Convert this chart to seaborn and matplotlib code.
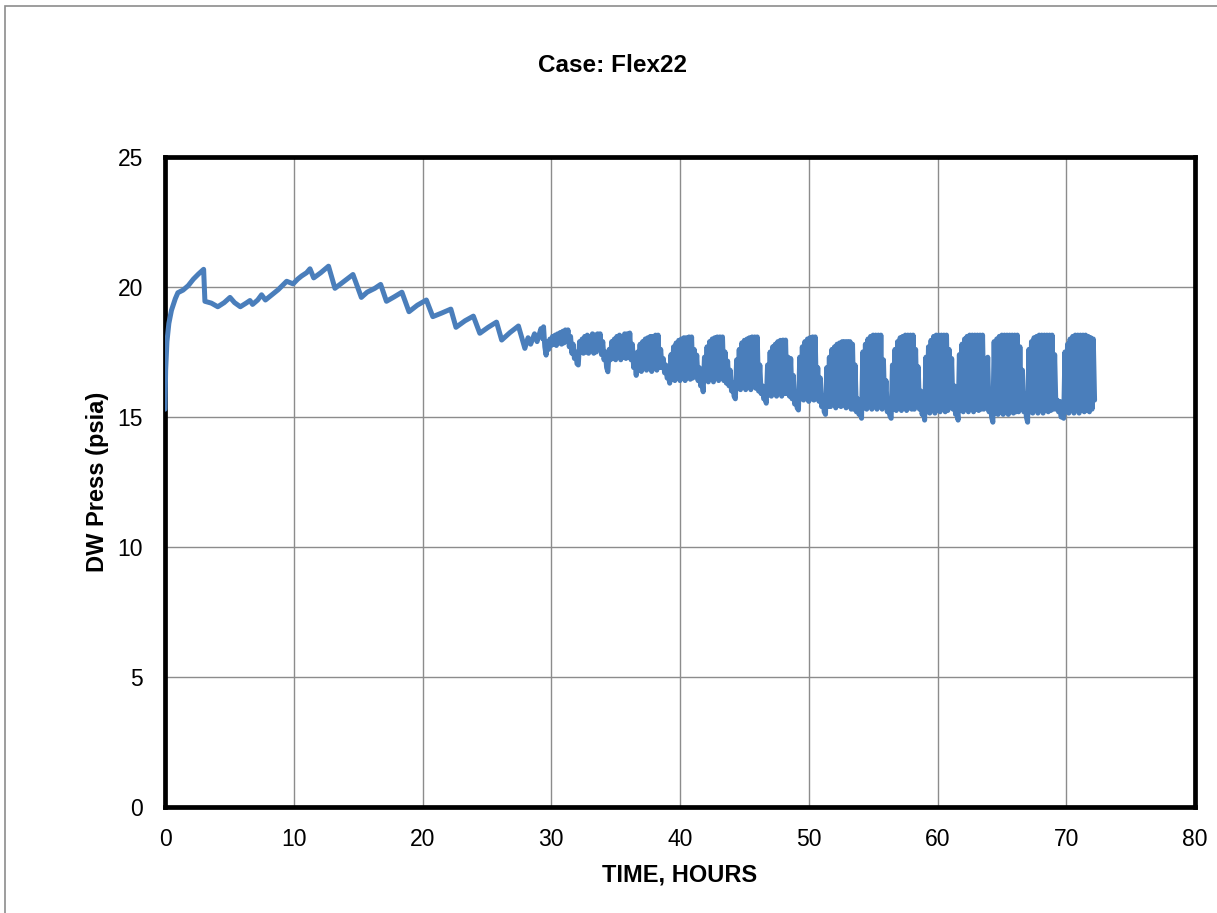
import matplotlib
matplotlib.use("Agg")
import matplotlib.pyplot as plt
from matplotlib.patches import Rectangle
import pandas as pd
import seaborn as sns

# ---- data ----
t_early = [0.0, 0.05, 0.15, 0.3, 0.5, 0.8, 1.0, 1.4, 1.8, 2.2, 2.6, 3.0, 3.1, 3.6, 4.1,
           4.6, 5.05, 5.4, 5.85, 6.3, 6.6, 6.8, 7.2, 7.5, 7.8, 8.3, 8.8, 9.45, 9.95, 10.3,
           10.6, 11.0, 11.26, 11.55, 12.1, 12.7, 13.2, 13.6, 14.0, 14.6, 15.25, 15.7, 16.3,
           16.75, 17.2, 17.8, 18.4, 18.95, 19.6, 20.3, 20.8, 21.5, 22.2, 22.6, 23.3, 23.95,
           24.45, 25.1, 25.75, 26.15, 26.8, 27.45, 27.95, 28.2, 28.4, 28.7, 28.9, 29.2,
           29.35, 29.4]
p_early = [15.3, 16.8, 17.9, 18.6, 19.1, 19.55, 19.78, 19.88, 20.05, 20.3, 20.5, 20.68,
           19.45, 19.38, 19.24, 19.4, 19.6, 19.4, 19.24, 19.38, 19.48, 19.33, 19.5, 19.7,
           19.5, 19.7, 19.9, 20.22, 20.12, 20.3, 20.42, 20.55, 20.7, 20.35, 20.55, 20.8,
           19.95, 20.1, 20.25, 20.48, 19.6, 19.8, 19.95, 20.1, 19.45, 19.62, 19.8, 19.05,
           19.3, 19.5, 18.86, 19.0, 19.15, 18.45, 18.7, 18.88, 18.22, 18.45, 18.65, 17.96,
           18.25, 18.5, 17.64, 18.05, 17.8, 18.2, 17.9, 18.4, 18.0, 18.47]

t_cycle = [
    29.5, 29.6, 29.7, 29.8, 29.9, 30.0, 30.1, 30.2, 30.3, 30.4, 30.5, 30.6, 30.7, 30.8,
    30.9, 31.0, 31.1, 31.2, 31.3, 31.4, 31.5, 31.6, 31.7, 31.8, 31.9, 32.0, 32.1,
    32.2, 32.3, 32.4, 32.5, 32.6, 32.7, 32.8, 32.9, 33.0, 33.1, 33.2, 33.3, 33.4, 33.5,
    33.6, 33.7, 33.8,
    33.9, 34.0, 34.1, 34.2, 34.3, 34.4,
    34.5, 34.6, 34.7, 34.8, 34.9, 35.0, 35.1, 35.2, 35.3, 35.4, 35.5, 35.6, 35.7, 35.8,
    35.9, 36.0, 36.1,
    36.2, 36.3, 36.4, 36.5, 36.6,
    36.7, 36.8, 36.9, 37.0, 37.1, 37.2, 37.3, 37.4, 37.5, 37.6, 37.7, 37.8, 37.9, 38.0,
    38.1, 38.2, 38.3,
    38.4, 38.5, 38.6, 38.7, 38.8, 38.9, 39.0, 39.1, 39.2,
    39.3, 39.4, 39.5, 39.6, 39.7, 39.8, 39.9, 40.0, 40.1, 40.2, 40.3, 40.4, 40.5, 40.6,
    40.7, 40.8, 40.9,
    41.0, 41.1, 41.2, 41.3, 41.4, 41.5, 41.6, 41.7, 41.8,
    41.9, 42.0, 42.1, 42.2, 42.3, 42.4, 42.5, 42.6, 42.7, 42.8, 42.9, 43.0, 43.1, 43.2,
    43.3,
    43.4, 43.5, 43.6, 43.7, 43.8, 43.9, 44.0, 44.1, 44.2, 44.3,
    44.4, 44.5, 44.6, 44.7, 44.8, 44.9, 45.0, 45.1, 45.2, 45.3, 45.4, 45.5, 45.6, 45.7,
    45.8, 45.9, 46.0,
    46.1, 46.2, 46.3, 46.4, 46.5, 46.6, 46.7,
    46.8, 46.9, 47.0, 47.1, 47.2, 47.3, 47.4, 47.5, 47.6, 47.7, 47.8, 47.9, 48.0, 48.1,
    48.2,
    48.3, 48.4, 48.5, 48.6, 48.7, 48.8, 48.9, 49.0, 49.1, 49.2,
    49.3, 49.4, 49.5, 49.6, 49.7, 49.8, 49.9, 50.0, 50.1, 50.2, 50.3, 50.4, 50.5,
    50.6, 50.7, 50.8, 50.9, 51.0, 51.1, 51.2, 51.3,
    51.4, 51.5, 51.6, 51.7, 51.8, 51.9, 52.0, 52.1, 52.2, 52.3, 52.4, 52.5, 52.6, 52.7,
    52.8, 52.9, 53.0, 53.1, 53.2, 53.3, 53.4,
    53.5, 53.6, 53.7, 53.8, 53.9, 54.0, 54.1,
    54.2, 54.3, 54.4, 54.5, 54.6, 54.7, 54.8, 54.9, 55.0, 55.1, 55.2, 55.3, 55.4, 55.5,
    55.6, 55.7,
    55.8, 55.9, 56.0, 56.1, 56.2, 56.3, 56.4,
    56.5, 56.6, 56.7, 56.8, 56.9, 57.0, 57.1, 57.2, 57.3, 57.4, 57.5, 57.6, 57.7, 57.8,
    57.9, 58.0, 58.1, 58.2,
    58.3, 58.4, 58.5, 58.6, 58.7, 58.8, 58.9, 59.0,
    59.1, 59.2, 59.3, 59.4, 59.5, 59.6, 59.7, 59.8, 59.9, 60.0, 60.1, 60.2, 60.3, 60.4,
    60.5, 60.6, 60.7, 60.8,
    60.9, 61.0, 61.1, 61.2, 61.3, 61.4, 61.5, 61.6,
    61.7, 61.8, 61.9, 62.0, 62.1, 62.2, 62.3, 62.4, 62.5, 62.6, 62.7, 62.8, 62.9, 63.0,
    63.1, 63.2, 63.3, 63.4, 63.5, 63.6,
    63.7, 63.8, 63.9, 64.0, 64.1, 64.2, 64.3,
    64.4, 64.5, 64.6, 64.7, 64.8, 64.9, 65.0, 65.1, 65.2, 65.3, 65.4, 65.5, 65.6, 65.7,
    65.8, 65.9, 66.0, 66.1, 66.2, 66.3,
    66.4, 66.5, 66.6, 66.7, 66.8, 66.9, 67.0,
    67.1, 67.2, 67.3, 67.4, 67.5, 67.6, 67.7, 67.8, 67.9, 68.0, 68.1, 68.2, 68.3, 68.4,
    68.5, 68.6, 68.7, 68.8, 68.9, 69.0,
    69.1, 69.2, 69.3, 69.4, 69.5, 69.6, 69.7, 69.8,
    69.9, 70.0, 70.1, 70.2, 70.3, 70.4, 70.5, 70.6, 70.7, 70.8, 70.9, 71.0, 71.1, 71.2,
    71.3, 71.4, 71.5, 71.6, 71.7, 71.8, 71.9, 72.0, 72.1, 72.2]
p_cycle = [
    17.7, 17.38, 17.9, 17.6, 18.0, 17.75, 18.1, 17.8, 18.15, 17.75, 18.2, 17.85, 18.25, 17.8,
    18.3, 17.85, 18.35, 17.9, 18.35, 17.7, 18.1, 17.45, 17.8, 17.25, 17.5, 17.05, 17.0,
    17.9, 17.5, 18.0, 17.45, 18.1, 17.5, 18.15, 17.45, 18.1, 17.55, 18.2, 17.45, 18.15, 17.5,
    18.2, 17.6, 18.2,
    17.4, 17.9, 17.2, 17.5, 16.9, 16.74,
    17.6, 17.2, 17.9, 17.25, 18.0, 17.2, 18.1, 17.3, 18.15, 17.2, 18.1, 17.3, 18.2, 17.25,
    18.2, 17.3, 18.23,
    17.2, 17.8, 16.9, 17.2, 16.6,
    17.5, 16.8, 17.8, 16.75, 17.9, 16.9, 18.0, 16.8, 18.05, 16.9, 18.1, 16.75, 18.1, 16.9,
    18.15, 16.8, 18.15,
    16.9, 17.6, 16.9, 17.25, 16.7, 17.0, 16.5, 16.6, 16.3,
    17.4, 16.45, 17.7, 16.4, 17.85, 16.5, 17.95, 16.4, 18.0, 16.5, 18.05, 16.4, 18.05, 16.55,
    18.08, 16.45, 18.08,
    16.5, 17.6, 16.6, 17.38, 16.4, 16.9, 16.2, 16.4, 15.97,
    17.3, 16.4, 17.7, 16.35, 17.9, 16.5, 18.0, 16.35, 18.05, 16.5, 18.08, 16.4, 18.08, 16.55,
    18.08,
    16.4, 17.5, 16.3, 17.15, 16.2, 16.8, 16.0, 16.3, 15.8, 15.7,
    17.2, 16.1, 17.6, 16.05, 17.85, 16.2, 17.95, 16.05, 18.0, 16.2, 18.05, 16.05, 18.08, 16.2,
    18.08, 16.1, 18.08,
    16.0, 17.0, 15.9, 16.2, 15.7, 15.8, 15.53,
    17.0, 15.85, 17.5, 15.8, 17.7, 15.9, 17.8, 15.8, 17.9, 15.95, 17.95, 15.8, 17.96, 15.9,
    17.96,
    15.9, 17.3, 15.8, 17.25, 15.7, 16.6, 15.5, 15.9, 15.35, 15.27,
    17.3, 15.7, 17.7, 15.65, 17.9, 15.75, 18.0, 15.6, 18.05, 15.7, 18.08, 15.65, 18.08,
    15.7, 16.9, 15.6, 16.5, 15.4, 15.8, 15.2, 15.1,
    16.9, 15.4, 17.3, 15.4, 17.6, 15.5, 17.7, 15.35, 17.8, 15.45, 17.85, 15.4, 17.9, 15.5,
    17.9, 15.35, 17.9, 15.45, 17.9, 15.3, 17.8,
    15.3, 17.0, 15.2, 15.7, 15.1, 15.3, 14.95,
    17.5, 15.35, 17.8, 15.3, 18.0, 15.4, 18.1, 15.3, 18.15, 15.4, 18.15, 15.3, 18.15, 15.4,
    18.15, 15.3,
    17.2, 15.4, 16.4, 15.2, 15.6, 15.05, 14.95,
    17.0, 15.3, 17.6, 15.25, 17.9, 15.35, 18.05, 15.25, 18.1, 15.35, 18.15, 15.25, 18.15, 15.35,
    18.15, 15.3, 18.15, 15.3,
    17.6, 15.4, 16.93, 15.3, 16.0, 15.1, 15.3, 14.88,
    17.3, 15.2, 17.7, 15.15, 17.95, 15.25, 18.1, 15.15, 18.15, 15.3, 18.15, 15.2, 18.15, 15.3,
    18.15, 15.2, 18.15, 15.25,
    17.6, 15.4, 17.25, 15.3, 16.2, 15.1, 15.3, 14.88,
    17.4, 15.25, 17.8, 15.2, 18.0, 15.3, 18.1, 15.2, 18.15, 15.3, 18.15, 15.2, 18.15, 15.3,
    18.15, 15.25, 18.15, 15.3, 18.15, 15.3,
    17.2, 15.4, 17.3, 15.2, 16.0, 15.0, 14.8,
    17.9, 15.15, 18.0, 15.1, 18.1, 15.2, 18.15, 15.1, 18.15, 15.2, 18.15, 15.1, 18.15, 15.2,
    18.15, 15.15, 18.15, 15.2, 18.15, 15.2,
    17.7, 15.3, 16.8, 15.2, 15.9, 15.0, 14.8,
    17.6, 15.2, 17.9, 15.15, 18.05, 15.25, 18.1, 15.15, 18.15, 15.25, 18.15, 15.15, 18.15, 15.25,
    18.15, 15.2, 18.15, 15.25, 18.15, 15.3,
    17.4, 15.3, 15.65, 15.2, 15.6, 15.0, 15.2, 14.95,
    17.5, 15.2, 17.8, 15.15, 18.0, 15.25, 18.1, 15.15, 18.15, 15.25, 18.15, 15.15, 18.15, 15.25,
    18.15, 15.2, 18.15, 15.25, 18.1, 15.2, 18.05, 15.3, 18.0, 15.65]

x_ticks = [0, 10, 20, 30, 40, 50, 60, 70, 80]
y_ticks = [0, 5, 10, 15, 20, 25]
title_text = "Case: Flex22"
x_label = "TIME, HOURS"
y_label = "DW Press (psia)"

df = pd.DataFrame({"time": t_early + t_cycle, "press": p_early + p_cycle})

# ---- styling ----
sns.set_theme(style="white")
plt.rcParams["font.family"] = ["Liberation Sans", "DejaVu Sans"]
plt.rcParams["text.color"] = "black"
plt.rcParams["axes.labelcolor"] = "black"

fig = plt.figure(figsize=(12.17, 9.13), dpi=100)
ax = fig.add_axes([165 / 1217, 1 - 807 / 913, (1195 - 165) / 1217, (807 - 157) / 913])

sns.lineplot(data=df, x="time", y="press", ax=ax, estimator=None, sort=False,
             color="#4A7EBB", linewidth=3.6, zorder=3)

ax.set_xlim(0, 80)
ax.set_ylim(0, 25)
ax.set_xticks(x_ticks)
ax.set_yticks(y_ticks)
ax.grid(True, color="#8C8C8C", linewidth=1.0)
ax.set_axisbelow(True)
for s in ax.spines.values():
    s.set_color("black")
    s.set_linewidth(3.4)
    s.set_visible(True)
ax.tick_params(axis="both", length=0, labelsize=16.5, colors="black")
ax.tick_params(axis="x", pad=15)
ax.tick_params(axis="y", pad=16)

ax.set_xlabel(x_label, fontsize=17, fontweight="bold", labelpad=9, color="black")
ax.set_ylabel(y_label, fontsize=17, fontweight="bold", labelpad=6, color="black")
fig.text(613 / 1217, 1 - 65 / 913, title_text, ha="center", va="center",
         fontsize=17.5, fontweight="bold", color="black")

fig.patches.append(Rectangle((5 / 1217, -0.05), 1.1, 1 - 6 / 913 + 0.05,
                             transform=fig.transFigure, fill=False,
                             edgecolor="#8C8C8C", linewidth=1.2))

fig.savefig("out.png", dpi=100, facecolor="white")
